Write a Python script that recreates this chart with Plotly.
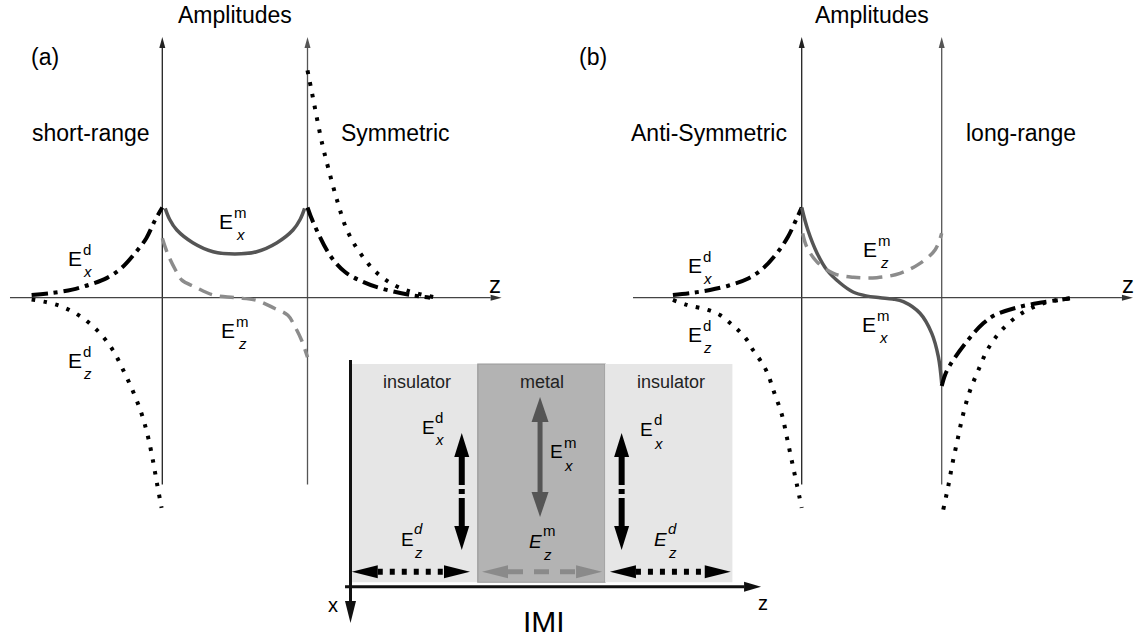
import plotly.graph_objects as go

W, H = 1137, 639
FONT = "Liberation Sans, Arial, Helvetica, sans-serif"

# ---------------------------------------------------------------------------
# Field profiles.  z is measured in units of the metal thickness (interfaces at
# z = 0 and z = 1); amplitudes are relative to E_x at the first interface.
# ---------------------------------------------------------------------------

# (a) symmetric, short-range mode
a_exd_left_z = [-0.90, -0.75, -0.62, -0.50, -0.38, -0.28, -0.19, -0.11, -0.05, 0.0]
a_exd_left_A = [0.03, 0.055, 0.09, 0.145, 0.22, 0.33, 0.49, 0.66, 0.86, 1.0]
a_ezd_left_z = [-0.90, -0.725, -0.58, -0.45, -0.345, -0.27, -0.20, -0.14, -0.098, -0.064, -0.036, -0.005]
a_ezd_left_A = [-0.02, -0.08, -0.19, -0.36, -0.57, -0.80, -1.045, -1.30, -1.545, -1.81, -2.065, -2.33]
a_exm_z = [0.02, 0.05, 0.10, 0.21, 0.35, 0.50, 0.65, 0.79, 0.90, 0.95, 0.98]
a_exm_A = [0.99, 0.87, 0.75, 0.61, 0.51, 0.485, 0.51, 0.61, 0.75, 0.87, 0.99]
a_ezm_z = [0.0, 0.04, 0.09, 0.135, 0.225, 0.35, 0.50, 0.65, 0.775, 0.865, 0.91, 0.96, 1.0]
a_ezm_A = [0.66, 0.475, 0.31, 0.195, 0.12, 0.03, 0.0, -0.03, -0.12, -0.195, -0.31, -0.475, -0.66]
a_exd_right_z = [1.0, 1.038, 1.155, 1.259, 1.382, 1.499, 1.706, 1.844]
a_exd_right_A = [1.0, 0.84, 0.47, 0.285, 0.175, 0.107, 0.03, 0.0]
a_ezd_right_z = [1.0, 1.031, 1.10, 1.141, 1.203, 1.272, 1.362, 1.479, 1.637, 1.892]
a_ezd_right_A = [2.52, 2.27, 1.715, 1.45, 1.083, 0.75, 0.496, 0.274, 0.108, 0.0]

# (b) anti-symmetric, long-range mode
b_exd_left_z = [-0.92, -0.78, -0.655, -0.52, -0.39, -0.28, -0.176, -0.10, -0.034, 0.0]
b_exd_left_A = [0.03, 0.055, 0.085, 0.135, 0.207, 0.32, 0.496, 0.67, 0.884, 1.0]
b_ezd_left_z = [-0.92, -0.82, -0.67, -0.584, -0.512, -0.455, -0.391, -0.348, -0.298,
                -0.248, -0.198, -0.141, -0.105, -0.069, -0.034, 0.0]
b_ezd_left_A = [-0.025, -0.08, -0.136, -0.192, -0.28, -0.358, -0.469, -0.58, -0.69,
                -0.824, -1.045, -1.30, -1.555, -1.821, -2.076, -2.33]
b_exm_z = [0.0, 0.044, 0.109, 0.18, 0.274, 0.367, 0.46, 0.56, 0.65, 0.726, 0.845, 0.929, 0.976, 1.0]
b_exm_A = [1.0, 0.75, 0.496, 0.307, 0.163, 0.063, 0.02, 0.0, -0.015, -0.044, -0.173, -0.395, -0.654, -0.95]
b_ezm_z = [0.007, 0.036, 0.107, 0.226, 0.369, 0.536, 0.702, 0.845, 0.952, 1.0]
b_ezm_A = [0.714, 0.565, 0.40, 0.27, 0.226, 0.222, 0.27, 0.381, 0.529, 0.714]
b_exd_right_z = [1.0, 1.024, 1.06, 1.178, 1.297, 1.381, 1.559, 1.726, 1.916]
b_exd_right_A = [-0.98, -0.857, -0.746, -0.488, -0.284, -0.192, -0.10, -0.051, -0.007]
b_ezd_right_z = [1.011, 1.047, 1.078, 1.114, 1.15, 1.197, 1.262, 1.333, 1.429, 1.571, 1.726, 1.869, 1.95]
b_ezd_right_A = [-2.35, -2.088, -1.829, -1.57, -1.312, -1.053, -0.802, -0.561, -0.358, -0.173, -0.062, -0.018, 0.0]

# IMI stack for the inset
layer_edges = [0, 1, 2, 3]
layer_names = ["insulator", "metal", "insulator"]
layer_fill = ["#e6e6e6", "#b3b3b3", "#e6e6e6"]

# ---------------------------------------------------------------------------
# Coordinate frames (pixel origin and pixels per unit for each overlaid axis)
# ---------------------------------------------------------------------------
ZA0, PXA = 162.3, 145.2      # panel (a) horizontal
ZB0, PXB = 801.7, 140.0      # panel (b) horizontal
Y0, PY = 297.7, 90.2         # amplitude axis shared by both panels
XI0, PXI = 350.5, 127.3      # inset horizontal (layer units)
YI0, PYI = 586.7, 222.7      # inset vertical (layer heights)

SCALE = {"x": PXA, "x2": PXB, "x3": PXI, "y": PY, "y3": PYI}


def xrange_of(origin, scale):
    return [-origin / scale, (W - origin) / scale]


def yrange_of(origin, scale):
    return [-(H - origin) / scale, origin / scale]


shapes = []
annotations = []


def head(xref, yref, tip, direction, length, width, color):
    """Filled triangular arrowhead; length and width given in pixels."""
    sx, sy = SCALE[xref], SCALE[yref]
    dx, dy = {"up": (0, 1), "down": (0, -1), "left": (-1, 0), "right": (1, 0)}[direction]
    tx, ty = tip
    bx, by = tx - dx * length / sx, ty - dy * length / sy
    cx, cy = -dy * width / 2 / sx, dx * width / 2 / sy
    path = f"M{tx},{ty} L{bx + cx},{by + cy} L{bx - cx},{by - cy} Z"
    shapes.append(dict(type="path", xref=xref, yref=yref, path=path,
                       fillcolor=color, line=dict(width=0), layer="above"))
    return bx, by


def seg(xref, yref, p0, p1, color, width, dash="solid", layer="above"):
    shapes.append(dict(type="line", xref=xref, yref=yref, x0=p0[0], y0=p0[1],
                       x1=p1[0], y1=p1[1], layer=layer,
                       line=dict(color=color, width=width, dash=dash)))


def text(xref, yref, x, y, s, size, color="#000", xanchor="center", xshift=0, yshift=0):
    annotations.append(dict(xref=xref, yref=yref, x=x, y=y, text=s, showarrow=False,
                            xanchor=xanchor, yanchor="middle", xshift=xshift, yshift=yshift,
                            font=dict(family=FONT, size=size, color=color)))


def elabel(xref, yref, x, y, sup, sub, size=21, ssize=15, e_it=False, sup_it=False,
           sup_dy=9, sub_dy=-13, sub_dx=0):
    """Field label: E with its superscript stacked above its subscript."""
    text(xref, yref, x, y, "<i>E</i>" if e_it else "E", size)
    half = round(size / 3)
    text(xref, yref, x, y, f"<i>{sup}</i>" if sup_it else sup, ssize, xanchor="left",
         xshift=half - 1, yshift=sup_dy)
    text(xref, yref, x, y, f"<i>{sub}</i>", ssize, xanchor="left",
         xshift=half - 1 + sub_dx, yshift=sub_dy)


# ---------------------------------------------------------------------------
# Curves
# ---------------------------------------------------------------------------
STY_EXD = dict(color="#000000", width=4, dash="16px,6px,4px,6px")
STY_EZD = dict(color="#000000", width=4, dash="3.5px,8.5px")
STY_EXM = dict(color="#555555", width=3.5)
STY_EZM = dict(color="#8c8c8c", width=3.5, dash="14px,8px")

curves = [
    ("x", a_exd_left_z, a_exd_left_A, STY_EXD),
    ("x", a_ezd_left_z, a_ezd_left_A, STY_EZD),
    ("x", a_exm_z, a_exm_A, STY_EXM),
    ("x", a_ezm_z, a_ezm_A, STY_EZM),
    ("x", a_exd_right_z, a_exd_right_A, STY_EXD),
    ("x", a_ezd_right_z, a_ezd_right_A, STY_EZD),
    ("x2", b_exd_left_z, b_exd_left_A, STY_EXD),
    ("x2", b_ezd_left_z, b_ezd_left_A, STY_EZD),
    ("x2", b_exm_z, b_exm_A, STY_EXM),
    ("x2", b_ezm_z, b_ezm_A, STY_EZM),
    ("x2", b_exd_right_z, b_exd_right_A, STY_EXD),
    ("x2", b_ezd_right_z, b_ezd_right_A, STY_EZD),
]

fig = go.Figure()
for xa, zs, amps, sty in curves:
    fig.add_trace(go.Scatter(x=zs, y=amps, xaxis=xa, yaxis="y", mode="lines",
                             line=dict(shape="spline", smoothing=1.0, **sty),
                             hoverinfo="skip", showlegend=False))

# ---------------------------------------------------------------------------
# Panel axes: two interface axes with arrows and the z axis
# ---------------------------------------------------------------------------
AXIS_TOP, AXIS_BOTTOM = 2.89, -2.07
panels = [("x", -1.049, 2.337), ("x2", -1.205, 2.366)]
for xa, z_start, z_tip in panels:
    for z_if, col in ((0, "#222222"), (1, "#555555")):
        bx, by = head(xa, "y", (z_if, AXIS_TOP), "up", 11, 6, col)
        seg(xa, "y", (z_if, AXIS_BOTTOM), (z_if, by), col, 1.3, layer="below")
    bx, by = head(xa, "y", (z_tip, 0), "right", 11, 6, "#333333")
    seg(xa, "y", (z_start, 0), (bx, 0), "#444444", 1.3, layer="below")
    text(xa, "y", 0.5, 3.13, "Amplitudes", 23)

text("x", "y", -0.808, 2.67, "(a)", 23)
text("x2", "y", -1.491, 2.67, "(b)", 23)
text("x", "y", -0.491, 1.83, "short-range", 23)
text("x", "y", 1.603, 1.83, "Symmetric", 23)
text("x2", "y", -0.662, 1.83, "Anti-Symmetric", 23)
text("x2", "y", 1.566, 1.83, "long-range", 23)
text("x", "y", 2.291, 0.15, "z", 24)
text("x2", "y", 2.331, 0.15, "z", 24)

elabel("x", "y", -0.601, 0.44, "d", "x")
elabel("x", "y", -0.601, -0.70, "d", "z")
elabel("x", "y", 0.442, 0.845, "m", "x", sub_dx=2)
elabel("x", "y", 0.452, -0.36, "m", "z", sub_dx=2)
elabel("x2", "y", -0.762, 0.36, "d", "x")
elabel("x2", "y", -0.762, -0.41, "d", "z")
elabel("x2", "y", 0.488, 0.53, "m", "z", sub_dx=2)
elabel("x2", "y", 0.481, -0.30, "m", "x", sub_dx=2)

# ---------------------------------------------------------------------------
# Inset: insulator / metal / insulator stack with field directions
# ---------------------------------------------------------------------------
LAYER_BOTTOM, LAYER_TOP = 0.02, 1.0
for i, name in enumerate(layer_names):
    shapes.append(dict(type="rect", xref="x3", yref="y3", x0=layer_edges[i], x1=layer_edges[i + 1],
                       y0=LAYER_BOTTOM, y1=LAYER_TOP, fillcolor=layer_fill[i], layer="below",
                       line=dict(width=1.2 if name == "metal" else 0, color="#9a9a9a")))
    text("x3", "y3", layer_edges[i] + (0.52 if i != 1 else 0.508), 0.919, name, 18, color="#222222")

# inset axes
bx, by = head("x3", "y3", (0, -0.163), "down", 22, 11, "#111111")
seg("x3", "y3", (0, 1.018), (0, by), "#111111", 3)
bx, by = head("x3", "y3", (3.225, 0), "right", 17, 10, "#111111")
seg("x3", "y3", (-0.043, 0), (bx, 0), "#111111", 3)
text("x3", "y3", -0.137, -0.082, "x", 20)
text("x3", "y3", 3.24, -0.073, "z", 20)
text("x3", "y3", 1.52, -0.154, "IMI", 30)

# E_x^d in the insulators: vertical dash-dot double arrows
for u in (0.874, 2.130):
    _, b_top = head("x3", "y3", (u, 0.690), "up", 24, 15, "#000000")
    _, b_bot = head("x3", "y3", (u, 0.165), "down", 24, 15, "#000000")
    seg("x3", "y3", (u, b_top), (u, b_bot), "#000000", 6, dash="28px,4px,5px,4px")

# E_x^m in the metal: solid grey double arrow
_, b_top = head("x3", "y3", (1.489, 0.852), "up", 25, 17, "#555555")
_, b_bot = head("x3", "y3", (1.489, 0.313), "down", 25, 17, "#555555")
seg("x3", "y3", (1.489, b_top), (1.489, b_bot), "#555555", 5)

# E_z in each layer: horizontal double arrows
V_H = 0.067
for left, right, col, dash in ((0.01, 0.939, "#000000", "5px,7px"),
                               (1.033, 1.976, "#8a8a8a", "15px,11px"),
                               (2.038, 2.987, "#000000", "5px,7px")):
    bl, _ = head("x3", "y3", (left, V_H), "left", 26, 13, col)
    br, _ = head("x3", "y3", (right, V_H), "right", 26, 13, col)
    seg("x3", "y3", (bl, V_H), (br, V_H), col, 6 if col == "#000000" else 5, dash=dash)

elabel("x3", "y3", 0.609, 0.713, "d", "x", size=19, ssize=15, sup_dy=10, sub_dy=-12)
elabel("x3", "y3", 0.444, 0.210, "d", "z", size=19, ssize=15, sup_it=True, sup_dy=11, sub_dy=-13)
elabel("x3", "y3", 1.622, 0.605, "m", "x", size=19, ssize=15, sup_dy=9, sub_dy=-14)
elabel("x3", "y3", 1.457, 0.205, "m", "z", size=19, ssize=15, e_it=True, sup_dy=11, sub_dy=-13)
elabel("x3", "y3", 2.329, 0.704, "d", "x", size=19, ssize=15, sup_dy=10, sub_dy=-14)
elabel("x3", "y3", 2.439, 0.210, "d", "z", size=19, ssize=15, e_it=True, sup_it=True, sup_dy=11, sub_dy=-13)

# ---------------------------------------------------------------------------
hidden = dict(visible=False, fixedrange=True)
fig.update_layout(
    width=W, height=H, autosize=False,
    margin=dict(l=0, r=0, t=0, b=0, pad=0),
    paper_bgcolor="white", plot_bgcolor="white",
    showlegend=False,
    xaxis=dict(range=xrange_of(ZA0, PXA), domain=[0, 1], anchor="y", **hidden),
    yaxis=dict(range=yrange_of(Y0, PY), domain=[0, 1], anchor="x", **hidden),
    xaxis2=dict(range=xrange_of(ZB0, PXB), domain=[0, 1], anchor="y", overlaying="x", **hidden),
    xaxis3=dict(range=xrange_of(XI0, PXI), domain=[0, 1], anchor="y3", overlaying="x", **hidden),
    yaxis3=dict(range=yrange_of(YI0, PYI), domain=[0, 1], anchor="x3", overlaying="y", **hidden),
    shapes=shapes,
    annotations=annotations,
)

fig.write_html("out.html", config={"displayModeBar": False})
